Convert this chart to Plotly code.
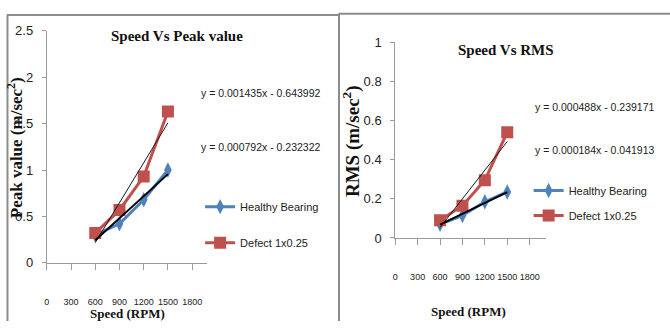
import plotly.graph_objects as go

# Measured vibration data
speed_rpm = [600, 900, 1200, 1500]

peak_healthy = [0.30, 0.42, 0.68, 1.00]
peak_defect = [0.32, 0.57, 0.93, 1.63]

rms_healthy = [0.07, 0.115, 0.185, 0.235]
rms_defect = [0.09, 0.165, 0.295, 0.54]

# Linear trendline coefficients (slope, intercept)
peak_healthy_fit = (0.000792, -0.232322)
peak_defect_fit = (0.001435, -0.643992)
rms_healthy_fit = (0.000184, -0.041913)
rms_defect_fit = (0.000488, -0.239171)

x_ticks = [0, 300, 600, 900, 1200, 1500, 1800]
peak_ticks = [0, 0.5, 1, 1.5, 2, 2.5]
peak_tick_text = ["0", "0.5", "1", "1.5", "2", "2.5"]
rms_ticks = [0, 0.2, 0.4, 0.6, 0.8, 1]
rms_tick_text = ["0", "0.2", "0.4", "0.6", "0.8", "1"]

W, H = 670, 329
BLUE = "#4f81bd"
RED = "#c0504d"
AXIS = "#9a9a9a"
SANS = "Liberation Sans, Arial, sans-serif"
SERIF = "Liberation Serif, Times New Roman, serif"


def px(x):
    return x / W


def py(y):
    return 1 - y / H


def fit_line(coef, xs):
    a, b = coef
    xe = [min(xs), max(xs)]
    return xe, [a * v + b for v in xe]


def eq_text(coef):
    a, b = coef
    sign = "-" if b < 0 else "+"
    return f"y = {a:.6f}x {sign} {abs(b):.6f}"


fig = go.Figure()

panels = [
    dict(xa="x", ya="y", healthy=peak_healthy, defect=peak_defect,
         hfit=peak_healthy_fit, dfit=peak_defect_fit, legend="legend"),
    dict(xa="x2", ya="y2", healthy=rms_healthy, defect=rms_defect,
         hfit=rms_healthy_fit, dfit=rms_defect_fit, legend="legend2"),
]

for p in panels:
    fig.add_trace(go.Scatter(
        x=speed_rpm, y=p["healthy"], xaxis=p["xa"], yaxis=p["ya"],
        mode="lines+markers", name="Healthy Bearing",
        line=dict(color=BLUE, width=3),
        marker=dict(symbol="diamond-tall", size=11, color=BLUE),
        legend=p["legend"], legendgroup=p["legend"] + "h"))
    fig.add_trace(go.Scatter(
        x=speed_rpm, y=p["defect"], xaxis=p["xa"], yaxis=p["ya"],
        mode="lines+markers", name="Defect 1x0.25",
        line=dict(color=RED, width=3),
        marker=dict(symbol="square", size=12, color=RED),
        legend=p["legend"], legendgroup=p["legend"] + "d"))
    hx, hy = fit_line(p["hfit"], speed_rpm)
    dx, dy = fit_line(p["dfit"], speed_rpm)
    fig.add_trace(go.Scatter(
        x=dx, y=dy, xaxis=p["xa"], yaxis=p["ya"], mode="lines",
        line=dict(color="#1a1a1a", width=1), showlegend=False,
        legend=p["legend"]))
    fig.add_trace(go.Scatter(
        x=hx, y=hy, xaxis=p["xa"], yaxis=p["ya"], mode="lines",
        line=dict(color="#000000", width=2), showlegend=False,
        legend=p["legend"]))

common_x = dict(
    tickvals=x_ticks, ticktext=[str(v) for v in x_ticks],
    showgrid=False, zeroline=False, showline=True, linecolor=AXIS,
    linewidth=1, ticks="outside", ticklen=6, tickcolor=AXIS,
    tickangle=0, ticklabelstandoff=24,
    tickfont=dict(family=SANS, size=9, color="#222"),
    fixedrange=True,
)
common_y = dict(
    showgrid=False, zeroline=False, showline=True, linecolor=AXIS,
    linewidth=1, ticks="outside", ticklen=4, tickcolor=AXIS,
    ticklabelstandoff=6,
    tickfont=dict(family=SANS, size=13, color="#222"),
    fixedrange=True,
)

fig.update_layout(
    width=W, height=H,
    margin=dict(l=0, r=0, t=0, b=0),
    paper_bgcolor="white", plot_bgcolor="white",
    xaxis=dict(domain=[px(44), px(205)], range=[0, 1985], anchor="y", **common_x),
    yaxis=dict(domain=[py(268), py(25)], range=[0, 2.5], anchor="x",
               tickvals=peak_ticks, ticktext=peak_tick_text, **common_y),
    xaxis2=dict(domain=[px(394), px(545)], range=[0, 2013], anchor="y2", **common_x),
    yaxis2=dict(domain=[py(242), py(37)], range=[0, 1], anchor="x2",
                tickvals=rms_ticks, ticktext=rms_tick_text, **common_y),
    legend=dict(x=px(198), y=py(194), xanchor="left", yanchor="top",
                bgcolor="rgba(0,0,0,0)", borderwidth=0, tracegroupgap=17,
                font=dict(family=SANS, size=11, color="#222"),
                itemwidth=30),
    legend2=dict(x=px(528), y=py(177), xanchor="left", yanchor="top",
                 bgcolor="rgba(0,0,0,0)", borderwidth=0, tracegroupgap=6,
                 font=dict(family=SANS, size=11, color="#222"),
                 itemwidth=30),
    showlegend=True,
)

annotations = [
    # chart titles
    dict(text="<b>Speed Vs Peak value</b>", x=px(175), y=py(30),
         font=dict(family=SERIF, size=15, color="#111")),
    dict(text="<b>Speed Vs RMS</b>", x=px(505), y=py(45),
         font=dict(family=SERIF, size=15, color="#111")),
    # axis titles
    dict(text="<b>Speed (RPM)</b>", x=px(125), y=py(321),
         font=dict(family=SERIF, size=13, color="#111")),
    dict(text="<b>Speed (RPM)</b>", x=px(468), y=py(319),
         font=dict(family=SERIF, size=13, color="#111")),
    dict(text="<b>Peak value (m/sec<sup>2</sup>)</b>", x=px(12), y=py(147),
         textangle=-90, font=dict(family=SERIF, size=17, color="#111")),
    dict(text="<b>RMS (m/sec<sup>2</sup>)</b>", x=px(350), y=py(140),
         textangle=-90, font=dict(family=SERIF, size=19, color="#111")),
    # trendline equations
    dict(text=eq_text(peak_defect_fit), x=px(197), y=py(90), xanchor="left",
         font=dict(family=SANS, size=10.5, color="#222")),
    dict(text=eq_text(peak_healthy_fit), x=px(197), y=py(147), xanchor="left",
         font=dict(family=SANS, size=10.5, color="#222")),
    dict(text=eq_text(rms_defect_fit), x=px(532), y=py(105), xanchor="left",
         font=dict(family=SANS, size=10.5, color="#222")),
    dict(text=eq_text(rms_healthy_fit), x=px(532), y=py(150), xanchor="left",
         font=dict(family=SANS, size=10.5, color="#222")),
]
for a in annotations:
    a.setdefault("xanchor", "center")
    a.setdefault("yanchor", "middle")
    a.update(xref="paper", yref="paper", showarrow=False)
fig.update_layout(annotations=annotations)

# panel frames
BORDER = "#8c8c8c"
shapes = [
    dict(type="line", x0=px(4), x1=px(337), y0=py(8.5), y1=py(8.5)),
    dict(type="line", x0=px(4.5), x1=px(4.5), y0=py(8), y1=py(329)),
    dict(type="line", x0=px(337), x1=px(670), y0=py(7), y1=py(7)),
    dict(type="line", x0=px(337.5), x1=px(337.5), y0=py(7), y1=py(329)),
]
for s in shapes:
    s.update(xref="paper", yref="paper", line=dict(color=BORDER, width=2))
fig.update_layout(shapes=shapes)

fig.write_html("out.html")
